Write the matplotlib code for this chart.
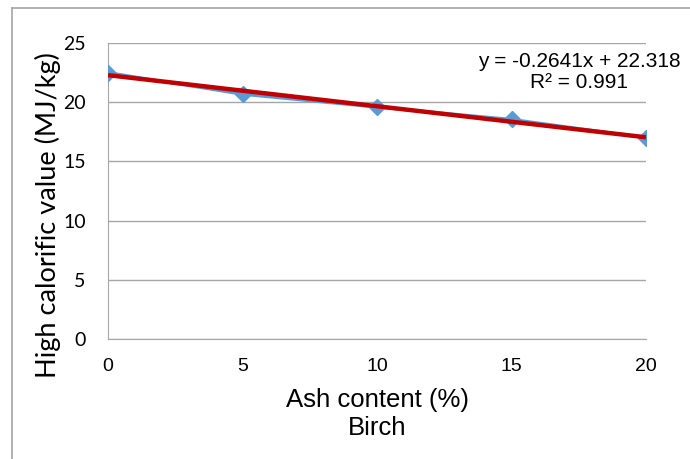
import numpy as np
import matplotlib
matplotlib.use("Agg")
import matplotlib.pyplot as plt
from matplotlib.lines import Line2D

# data (Birch)
ash = [0, 5, 10, 15, 20]
hcv = [22.5, 20.67, 19.58, 18.55, 17.0]
eq_text = "y = -0.2641x + 22.318\nR² = 0.991"

y_ticks = [0, 5, 10, 15, 20, 25]
x_ticks = [0, 5, 10, 15, 20]

plt.rcParams['font.family'] = ['Liberation Sans', 'DejaVu Sans']

fig = plt.figure(figsize=(6.9, 4.59), dpi=100)
ax = fig.add_axes([108 / 690, 1 - 339 / 459, (646 - 108) / 690, (339 - 43) / 459])

# chart frame (only left/top edges visible in the crop)
fig.add_artist(Line2D([12 / 690, 12 / 690], [0, 1 - 8 / 459], color='#a6a6a6', lw=1.2))
fig.add_artist(Line2D([12 / 690, 1], [1 - 8 / 459, 1 - 8 / 459], color='#a6a6a6', lw=1.2))

ax.plot(ash, hcv, color='#5b9bd5', lw=2.2, marker='D', ms=8, zorder=3)

# linear trendline
coef = np.polyfit(ash, hcv, 1)
xt = np.array([min(ash), max(ash)])
ax.plot(xt, np.polyval(coef, xt), color='#c00000', lw=3.2, zorder=4, solid_capstyle='butt')

ax.set_xlim(0, 20)
ax.set_ylim(0, 25)
ax.set_xticks(x_ticks)
ax.set_yticks(y_ticks)
ax.yaxis.grid(True, color='#a6a6a6', lw=1)
ax.set_axisbelow(True)
for s in ['top', 'right']:
    ax.spines[s].set_visible(False)
for s in ['left', 'bottom']:
    ax.spines[s].set_color('#a6a6a6')
ax.tick_params(length=0)
ax.tick_params(axis='x', labelsize=14, pad=14)
ax.tick_params(axis='y', labelsize=14, pad=16)
for lab in ax.get_yticklabels():
    lab.set_family(['Lato', 'DejaVu Sans'])

ax.set_ylabel("High calorific value (MJ/kg)", fontsize=19.5, family=['Lato', 'DejaVu Sans'])
ax.yaxis.set_label_coords(-0.087, 0.42)
ax.set_xlabel("Ash content (%)\nBirch", fontsize=18.5, labelpad=9, linespacing=1.2)

ax.text(579 / 690, 1 - 72 / 459, eq_text, transform=fig.transFigure, ha='center', va='center',
        fontsize=15, linespacing=1.1)

fig.savefig("out.png", dpi=100)
